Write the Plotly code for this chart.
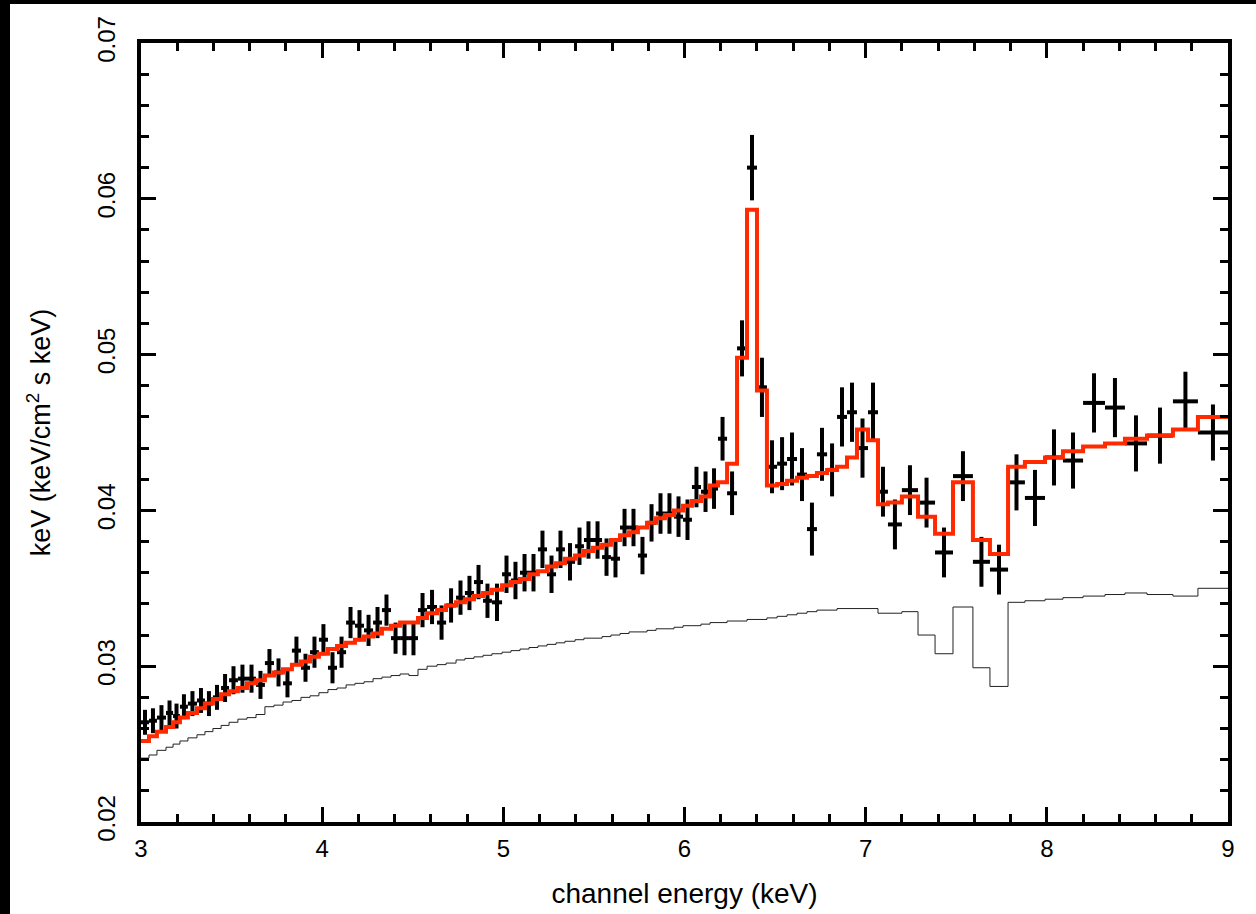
import plotly.graph_objects as go

# Bin edges (keV)
edges = [3.000, 3.044, 3.088, 3.138, 3.177, 3.215, 3.259, 3.309, 3.353, 3.397,
         3.442, 3.486, 3.535, 3.585, 3.635, 3.684, 3.734, 3.784, 3.833, 3.883,
         3.933, 3.982, 4.032, 4.082, 4.132, 4.181, 4.231, 4.281, 4.330, 4.380,
         4.430, 4.479, 4.529, 4.579, 4.634, 4.684, 4.739, 4.788, 4.838, 4.888,
         4.937, 4.993, 5.042, 5.092, 5.142, 5.191, 5.241, 5.291, 5.340, 5.396,
         5.445, 5.495, 5.545, 5.594, 5.644, 5.694, 5.743, 5.793, 5.843, 5.892,
         5.942, 5.992, 6.041, 6.091, 6.141, 6.185, 6.235, 6.290, 6.345, 6.400,
         6.455, 6.511, 6.566, 6.621, 6.676, 6.731, 6.787, 6.842, 6.897, 6.952,
         7.013, 7.068, 7.123, 7.200, 7.289, 7.383, 7.482, 7.592, 7.686, 7.786,
         7.879, 7.990, 8.089, 8.200, 8.321, 8.431, 8.553, 8.696, 8.834, 9.000]

# Observed spectrum
flux = [0.0264, 0.0265, 0.0267, 0.0270, 0.0268, 0.0274, 0.0276, 0.0278, 0.0276, 0.0280,
        0.0286, 0.0291, 0.0292, 0.0292, 0.0288, 0.0302, 0.0296, 0.0289, 0.0310, 0.0299,
        0.0309, 0.0317, 0.0299, 0.0309, 0.0328, 0.0326, 0.0323, 0.0328, 0.0336, 0.0318,
        0.0318, 0.0318, 0.0336, 0.0338, 0.0328, 0.0339, 0.0344, 0.0347, 0.0354, 0.0342,
        0.0341, 0.0359, 0.0355, 0.0360, 0.0360, 0.0375, 0.0359, 0.0375, 0.0367, 0.0377,
        0.0381, 0.0381, 0.0370, 0.0369, 0.0389, 0.0389, 0.0371, 0.0392, 0.0398, 0.0398,
        0.0396, 0.0394, 0.0415, 0.0412, 0.0414, 0.0446, 0.0411, 0.0504, 0.0620, 0.0479,
        0.0428, 0.0430, 0.0433, 0.0423, 0.0388, 0.0436, 0.0426, 0.0460,
        0.0463, 0.0440, 0.0463, 0.0412, 0.0391, 0.0413, 0.0405, 0.0373, 0.0422, 0.0367,
        0.0362, 0.0418, 0.0408, 0.0434, 0.0432, 0.0469, 0.0466, 0.0443, 0.0448, 0.0470, 0.0450]

flux_err = [0.0008, 0.0008, 0.0008, 0.0008, 0.0008, 0.0008, 0.0008, 0.0008, 0.0008, 0.0008,
            0.0009, 0.0009, 0.0009, 0.0009, 0.0009, 0.0009, 0.0009, 0.0009, 0.0009, 0.0009,
            0.0010, 0.0010, 0.0010, 0.0010, 0.0010, 0.0010, 0.0010, 0.0010, 0.0010, 0.0010,
            0.0011, 0.0011, 0.0011, 0.0011, 0.0011, 0.0011, 0.0011, 0.0011, 0.0011, 0.0011,
            0.0012, 0.0012, 0.0012, 0.0012, 0.0012, 0.0012, 0.0012, 0.0012, 0.0012, 0.0012,
            0.0012, 0.0012, 0.0012, 0.0012, 0.0012, 0.0012, 0.0012, 0.0012, 0.0013, 0.0013,
            0.0013, 0.0013, 0.0013, 0.0013, 0.0013, 0.0014, 0.0014, 0.0018, 0.0021, 0.0019,
            0.0017, 0.0017, 0.0017, 0.0017, 0.0017, 0.0017, 0.0017, 0.0019,
            0.0019, 0.0019, 0.0019, 0.0016, 0.0016, 0.0016, 0.0016, 0.0016, 0.0016, 0.0016,
            0.0016, 0.0018, 0.0018, 0.0018, 0.0018, 0.0019, 0.0019, 0.0018, 0.0018, 0.0019, 0.0018]

# Best-fit model (red)
model = [0.0252, 0.0255, 0.0258, 0.0261, 0.0264, 0.0267, 0.0270, 0.0273, 0.0276, 0.0279,
         0.0282, 0.0284, 0.0286, 0.0289, 0.0291, 0.0294, 0.0296, 0.0298, 0.0301, 0.0303,
         0.0306, 0.0308, 0.0311, 0.0313, 0.0315, 0.0317, 0.0319, 0.0321, 0.0324, 0.0326,
         0.0328, 0.0328, 0.0331, 0.0334, 0.0336, 0.0339, 0.0341, 0.0343, 0.0345, 0.0347,
         0.0349, 0.0352, 0.0354, 0.0356, 0.0359, 0.0361, 0.0364, 0.0366, 0.0369, 0.0371,
         0.0374, 0.0376, 0.0378, 0.0381, 0.0384, 0.0386, 0.0389, 0.0392, 0.0395, 0.0397,
         0.0400, 0.0403, 0.0406, 0.0409, 0.0416, 0.0418, 0.0430, 0.0498, 0.0593, 0.0477,
         0.0416, 0.0417, 0.0419, 0.0421, 0.0422, 0.0424, 0.0426, 0.0428,
         0.0434, 0.0452, 0.0445, 0.0404, 0.0405, 0.0409, 0.0396, 0.0385, 0.0418, 0.0381,
         0.0372, 0.0428, 0.0431, 0.0434, 0.0438, 0.0441, 0.0443, 0.0446, 0.0448, 0.0452, 0.0460]

# Continuum component (thin black)
continuum = [0.0241, 0.0243, 0.0246, 0.0248, 0.0250, 0.0252, 0.0254, 0.0256, 0.0258, 0.0260,
             0.0262, 0.0264, 0.0266, 0.0267, 0.0269, 0.0274, 0.0275, 0.0277, 0.0278, 0.0280,
             0.0281, 0.0283, 0.0285, 0.0286, 0.0288, 0.0289, 0.0290, 0.0292, 0.0293, 0.0294,
             0.0295, 0.0294, 0.0298, 0.0300, 0.0301, 0.0302, 0.0304, 0.0305, 0.0306, 0.0307,
             0.0308, 0.0309, 0.0310, 0.0311, 0.0312, 0.0313, 0.0314, 0.0315, 0.0316, 0.0317,
             0.0318, 0.0318, 0.0319, 0.0320, 0.0321, 0.0322, 0.0322, 0.0323, 0.0324, 0.0324,
             0.0325, 0.0326, 0.0326, 0.0327, 0.0328, 0.0328, 0.0329, 0.0329, 0.0330, 0.0330,
             0.0331, 0.0332, 0.0333, 0.0334, 0.0335, 0.0336, 0.0336, 0.0337,
             0.0337, 0.0337, 0.0337, 0.0334, 0.0334, 0.0335, 0.0320, 0.0308, 0.0338, 0.0299,
             0.0287, 0.0341, 0.0342, 0.0343, 0.0344, 0.0345, 0.0346, 0.0347, 0.0346, 0.0345, 0.0350]

x_ticks = [3, 4, 5, 6, 7, 8, 9]
y_ticks = [0.02, 0.03, 0.04, 0.05, 0.06, 0.07]
y_tick_text = ["0.02", "0.03", "0.04", "0.05", "0.06", "0.07"]

centers = [(a + b) / 2 for a, b in zip(edges[:-1], edges[1:])]
half_w = [(b - a) / 2 for a, b in zip(edges[:-1], edges[1:])]

fig = go.Figure()
fig.add_trace(go.Scatter(
    x=edges, y=continuum + [continuum[-1]], mode="lines",
    line=dict(shape="hv", color="#222222", width=1), hoverinfo="skip"))
fig.add_trace(go.Scatter(
    x=centers, y=flux, mode="markers",
    marker=dict(size=3, color="black"),
    error_x=dict(type="data", array=half_w, thickness=4, width=0, color="black"),
    error_y=dict(type="data", array=flux_err, thickness=4, width=0, color="black")))
fig.add_trace(go.Scatter(
    x=edges, y=model + [model[-1]], mode="lines",
    line=dict(shape="hv", color="#ff2a00", width=4)))

W, H = 1256, 914
L, R, T, B = 141, 28, 43, 92
pw, ph = W - L - R, H - T - B

fig.update_layout(
    width=W, height=H,
    margin=dict(l=L, r=R, t=T, b=B, autoexpand=False),
    paper_bgcolor="white", plot_bgcolor="white", showlegend=False,
    font=dict(family="Liberation Sans, Arial, Helvetica, sans-serif", color="black", size=24),
)
fig.update_xaxes(
    range=[3, 9], tickvals=x_ticks, ticktext=[str(v) for v in x_ticks],
    ticks="inside", ticklen=15, tickwidth=3, tickcolor="black",
    showline=True, linewidth=4, linecolor="black", mirror="ticks",
    showgrid=False, zeroline=False,
    minor=dict(dtick=0.2, tick0=3, ticks="inside", ticklen=8, tickwidth=3,
               tickcolor="black", showgrid=False),
    tickfont=dict(size=24), ticklabelstandoff=2,
    title=dict(text="channel energy (keV)", font=dict(size=28), standoff=24),
)
fig.update_yaxes(
    range=[0.02, 0.07], tickvals=y_ticks, ticktext=y_tick_text, tickangle=-90,
    ticks="inside", ticklen=15, tickwidth=3, tickcolor="black",
    showline=True, linewidth=4, linecolor="black", mirror="ticks",
    showgrid=False, zeroline=False,
    minor=dict(dtick=0.002, tick0=0.02, ticks="inside", ticklen=8, tickwidth=3,
               tickcolor="black", showgrid=False),
    tickfont=dict(size=24), ticklabelstandoff=12,
    title=dict(text="keV (keV/cm<sup>2</sup> s keV)", font=dict(size=27), standoff=36),
)

# black frame strips at the top and left edges of the picture
def px_x(px):
    return (px - L) / pw

def px_y(py):
    return (H - B - py) / ph

fig.add_shape(type="rect", xref="paper", yref="paper", layer="above",
              x0=px_x(0), x1=px_x(10), y0=px_y(H), y1=px_y(0),
              line=dict(width=0), fillcolor="black")
fig.add_shape(type="rect", xref="paper", yref="paper", layer="above",
              x0=px_x(0), x1=px_x(W), y0=px_y(4), y1=px_y(0),
              line=dict(width=0), fillcolor="black")

fig.write_html("out.html")
